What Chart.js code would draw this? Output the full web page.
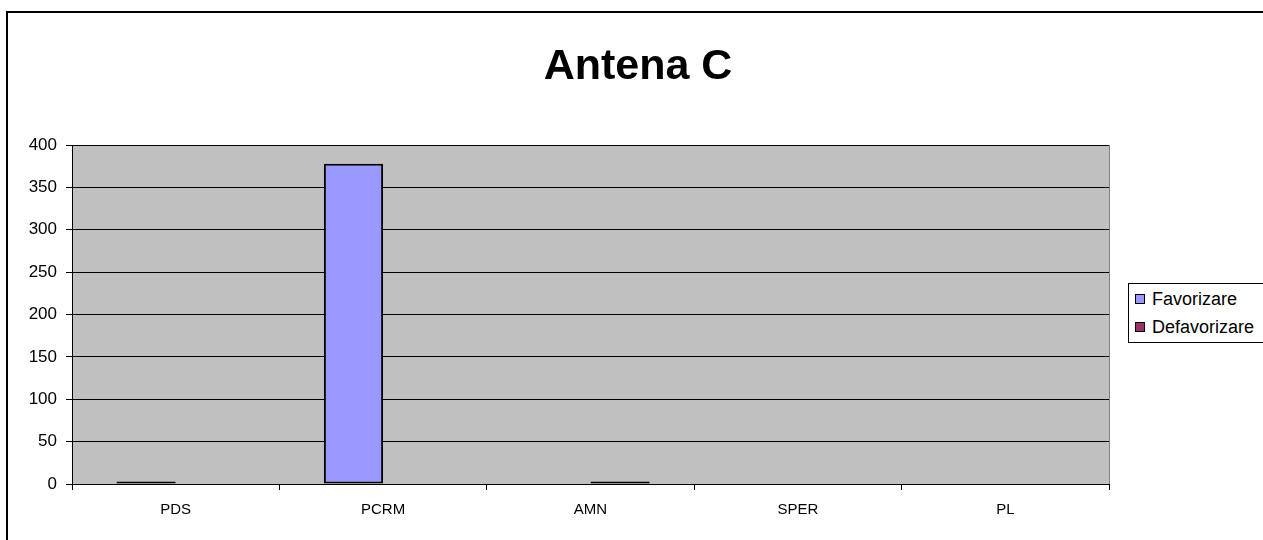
<!DOCTYPE html>
<html>
<head>
<meta charset="utf-8">
<script src="https://cdn.jsdelivr.net/npm/chart.js@4/dist/chart.umd.min.js"></script>
<style>
  body { margin: 0; background: #fff; font-family: "Liberation Sans", Arial, sans-serif; }
  #wrap { position: relative; width: 1263px; height: 540px; overflow: hidden; }
  #legend { position: absolute; left: 1128px; top: 283px; width: 160px; border: 1px solid #000; background: #fff; padding: 1px 0 1px 6px; }
  .legend-item { display: flex; align-items: center; font-size: 18px; height: 28px; color: #000; }
  .legend-color { width: 8px; height: 8px; border: 1px solid #000; margin-right: 7px; }
</style>
</head>
<body>
<div id="wrap">
  <canvas id="myChart" width="1263" height="540"></canvas>
  <div id="legend"></div>
</div>
<script>
// date
const chartTitle = "Antena C";
const categories = ["PDS", "PCRM", "AMN", "SPER", "PL"];
const favorizare = [3, 378, 0, 0, 0];
const defavorizare = [0, 0, 3, 0, 0];
const yTicks = [0, 50, 100, 150, 200, 250, 300, 350, 400];

const series = [
  { label: "Favorizare", data: favorizare, color: "#9999ff" },
  { label: "Defavorizare", data: defavorizare, color: "#993366" },
];

// fundal gri, chenar exterior si titlu
const frame = {
  id: "frame",
  beforeDraw(chart) {
    const c = chart.ctx, a = chart.chartArea;
    c.save();
    c.fillStyle = "#c0c0c0";
    c.fillRect(a.left, a.top, a.right - a.left, a.bottom - a.top);
    c.strokeStyle = "#808080";
    c.lineWidth = 1;
    c.strokeRect(a.left + 0.5, a.top + 0.5, a.right - a.left, a.bottom - a.top);
    c.strokeStyle = "#000";
    c.lineWidth = 2;
    c.strokeRect(7, 12, 1400, 700);
    c.fillStyle = "#000";
    c.font = "bold 43px 'Liberation Sans', Arial";
    c.textAlign = "center";
    c.textBaseline = "middle";
    c.fillText(chartTitle, 638, 67);
    c.restore();
  },
};

var ctx = document.getElementById("myChart").getContext("2d");

var myChart = new Chart(ctx, {
  type: "bar",
  data: {
    labels: categories,
    datasets: series.map((s) => ({
      label: s.label,
      data: s.data,
      backgroundColor: s.color,
      borderColor: "#000",
      borderWidth: (c) => (c.raw ? 2 : 0),
      borderSkipped: false,
      categoryPercentage: 0.571,
      barPercentage: 1,
    })),
  },
  options: {
    responsive: false,
    animation: false,
    layout: { padding: { left: 0, right: 154, top: 145, bottom: 0 } },
    plugins: {
      legend: { display: false },
      tooltip: { enabled: false },
      title: { display: false },
    },
    scales: {
      x: {
        grid: { offset: true, drawOnChartArea: false, drawTicks: true, tickLength: 6, color: "#000" },
        border: { color: "#000", width: 1 },
        ticks: { color: "#000", padding: 11, font: { family: "Liberation Sans, Arial", size: 15 } },
        afterFit: (s) => { s.height = 56; },
      },
      y: {
        min: 0,
        max: 400,
        afterBuildTicks: (s) => { s.ticks = yTicks.map((v) => ({ value: v })); },
        grid: { color: "#000", tickLength: 6 },
        border: { color: "#000", width: 1 },
        ticks: { color: "#000", padding: 9, font: { family: "Liberation Sans, Arial", size: 17 } },
        afterFit: (s) => { s.width = 72; },
      },
    },
  },
  plugins: [frame],
});

const legendContainer = document.getElementById("legend");
series.forEach((s) => {
  const legendItem = document.createElement("div");
  legendItem.className = "legend-item";
  const legendColor = document.createElement("span");
  legendColor.className = "legend-color";
  legendColor.style.backgroundColor = s.color;
  const legendText = document.createElement("span");
  legendText.textContent = s.label;
  legendItem.appendChild(legendColor);
  legendItem.appendChild(legendText);
  legendContainer.appendChild(legendItem);
});
</script>
</body>
</html>
